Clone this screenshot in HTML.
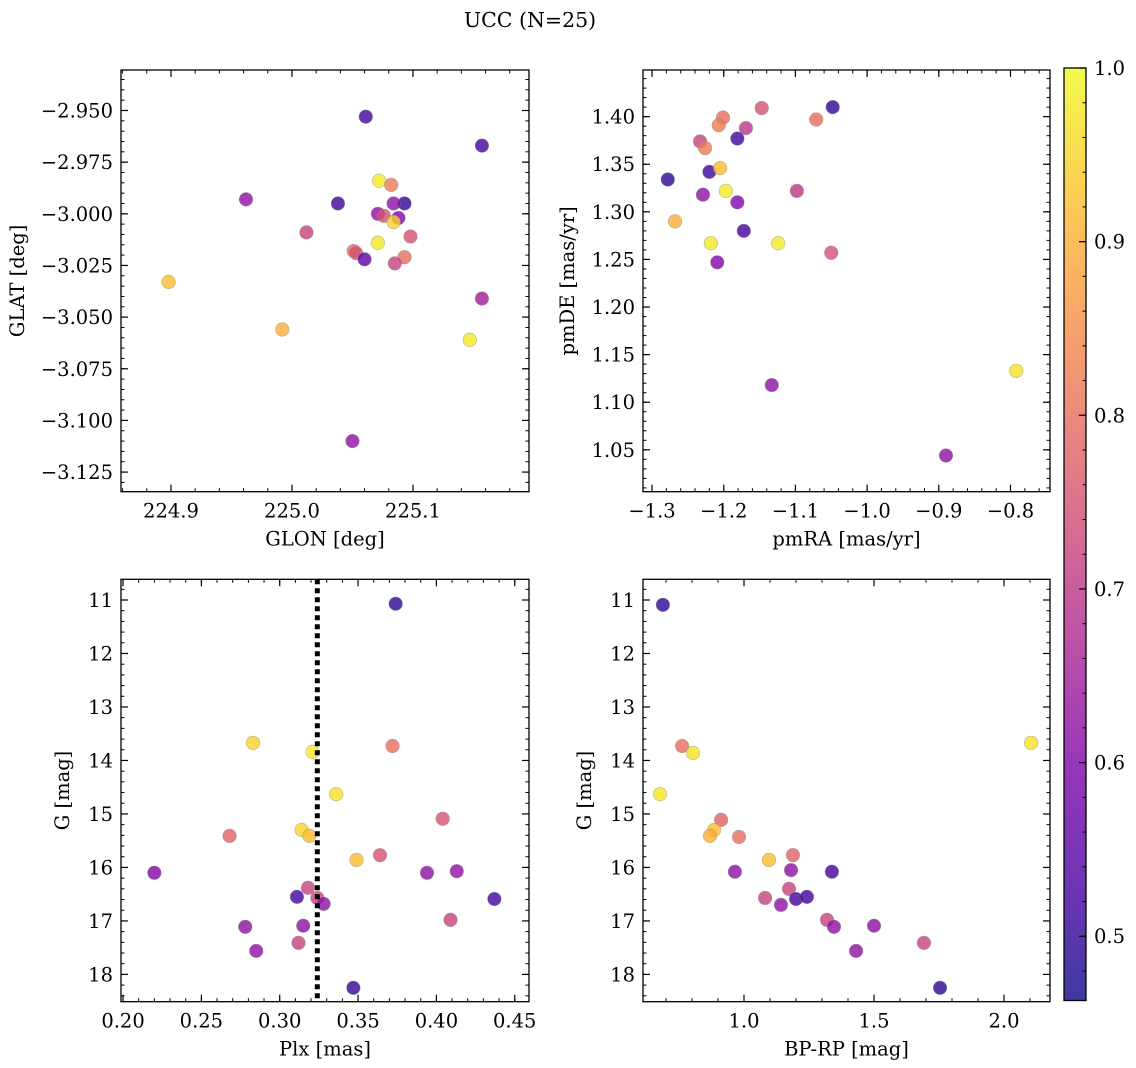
<!DOCTYPE html>
<html><head><meta charset="utf-8"><style>
html,body{margin:0;padding:0;background:#fff;}
svg{display:block;font-family:"DejaVu Serif","Liberation Serif",serif;}
</style></head><body>
<svg id="fig" width="1136" height="1068" viewBox="0 0 1136 1068" xmlns="http://www.w3.org/2000/svg">
<defs>
<linearGradient id="plasma" x1="0" y1="1" x2="0" y2="0">
<stop offset="0" stop-color="#0d0887"/><stop offset="0.125" stop-color="#4c02a1"/><stop offset="0.25" stop-color="#7e03a8"/><stop offset="0.375" stop-color="#a92395"/><stop offset="0.5" stop-color="#cc4778"/><stop offset="0.625" stop-color="#e66c5c"/><stop offset="0.75" stop-color="#f89540"/><stop offset="0.875" stop-color="#fdc527"/><stop offset="1" stop-color="#f0f921"/>
</linearGradient>
</defs>
<text x="530" y="27" font-size="20.5" text-anchor="middle">UCC (N=25)</text>
</svg>
<script>
// Panel 1: GLON / GLAT
const glon=[225.061,225.157,224.962,225.038,225.072,225.082,225.093,225.084,225.071,225.076,225.088,225.084,225.012,225.098,225.071,225.051,225.053,225.060,225.093,225.085,224.898,225.157,224.992,225.147,225.050];
const glat=[-2.953,-2.967,-2.993,-2.995,-2.984,-2.986,-2.995,-2.995,-3.000,-3.001,-3.002,-3.004,-3.009,-3.011,-3.014,-3.018,-3.019,-3.022,-3.021,-3.024,-3.033,-3.041,-3.056,-3.061,-3.110];
const prob1=[0.52,0.52,0.62,0.52,0.98,0.82,0.5,0.62,0.62,0.75,0.6,0.95,0.72,0.75,0.98,0.8,0.75,0.55,0.8,0.72,0.92,0.65,0.9,0.98,0.62];
// Panel 2: pmRA / pmDE
const pmra=[-1.147,-1.048,-1.201,-1.233,-1.207,-1.169,-1.226,-1.181,-1.071,-1.278,-1.220,-1.205,-1.197,-1.229,-1.181,-1.098,-1.268,-1.172,-1.218,-1.124,-1.209,-1.050,-0.792,-1.133,-0.890];
const pmde=[1.409,1.410,1.399,1.374,1.391,1.388,1.367,1.377,1.397,1.334,1.342,1.346,1.322,1.318,1.310,1.322,1.290,1.280,1.267,1.267,1.247,1.257,1.133,1.118,1.044];
const prob2=[0.75,0.5,0.8,0.72,0.82,0.7,0.82,0.52,0.8,0.5,0.52,0.92,0.98,0.62,0.6,0.7,0.9,0.52,0.98,0.98,0.6,0.75,0.97,0.62,0.62];
// Panel 3: Plx / G
const plx=[0.374,0.283,0.321,0.372,0.336,0.268,0.314,0.319,0.404,0.349,0.364,0.220,0.394,0.413,0.311,0.318,0.324,0.328,0.437,0.278,0.315,0.409,0.285,0.312,0.347];
const g3=[11.07,13.67,13.84,13.73,14.63,15.41,15.30,15.41,15.09,15.86,15.77,16.10,16.10,16.07,16.55,16.38,16.57,16.68,16.59,17.11,17.09,16.98,17.56,17.41,18.25];
const prob3=[0.5,0.95,0.98,0.8,0.97,0.78,0.95,0.92,0.75,0.92,0.75,0.6,0.62,0.62,0.52,0.72,0.72,0.62,0.52,0.62,0.62,0.72,0.62,0.72,0.5];
const plxMean=[0.324];
// Panel 4: BP-RP / G
const bprp=[0.688,0.677,0.762,0.804,2.104,0.912,0.885,0.869,0.981,1.096,1.188,0.965,1.181,1.338,1.081,1.173,1.142,1.200,1.242,1.319,1.500,1.346,1.431,1.692,1.754];
const g4=[11.09,14.63,13.73,13.86,13.67,15.11,15.30,15.41,15.43,15.86,15.77,16.08,16.05,16.08,16.57,16.40,16.70,16.59,16.55,16.98,17.09,17.11,17.56,17.41,18.25];
const prob4=[0.5,0.97,0.8,0.97,0.97,0.78,0.92,0.9,0.8,0.92,0.78,0.62,0.62,0.52,0.72,0.72,0.62,0.52,0.52,0.72,0.62,0.62,0.62,0.72,0.5];
const cbarTicks=[0.5,0.6,0.7,0.8,0.9,1.0];

const NS="http://www.w3.org/2000/svg";
const svg=document.getElementById('fig');
const FS=19.5;
function mk(tag,attrs,parent){const e=document.createElementNS(NS,tag);for(const k in attrs)e.setAttribute(k,attrs[k]);(parent||svg).appendChild(e);return e;}
const VMIN=0.463,VMAX=1.0;
const stops=[[13,8,135],[76,2,161],[126,3,168],[169,35,149],[204,71,120],[230,108,92],[248,149,64],[253,197,39],[240,249,33]];
function plasma(v){let t=(v-VMIN)/(VMAX-VMIN);t=Math.max(0,Math.min(1,t));const p=t*8,i=Math.min(7,Math.floor(p)),f=p-i;const a=stops[i],b=stops[i+1];return 'rgb('+a.map((c,k)=>Math.round(c+(b[k]-c)*f)).join(',')+')';}
function fmt(v,d){const s=Math.abs(v).toFixed(d);return (v<-1e-9?'\u2212':'')+s;}

function panel(o){
  const g=mk('g',{});
  
  
  const sx=v=>o.x0+(v-o.xmin)/(o.xmax-o.xmin)*(o.x1-o.x0);
  const sy=v=>o.inv? o.y0+(v-o.ymin)/(o.ymax-o.ymin)*(o.y1-o.y0) : o.y1-(v-o.ymin)/(o.ymax-o.ymin)*(o.y1-o.y0);
  for(let i=0;i<o.xs.length;i++){
    const c=mk('circle',{cx:sx(o.xs[i]),cy:sy(o.ys[i]),r:6.8,fill:plasma(o.cs[i]),'fill-opacity':0.8,stroke:'#888','stroke-opacity':0.6,'stroke-width':0.6},g);
    
    
  }
  if(o.vline){
    const l=mk('line',{x1:sx(o.vline[0]),x2:sx(o.vline[0]),y1:o.y0,y2:o.y1,stroke:'#000','stroke-width':5,'stroke-dasharray':'5,4'},g);
    
    
  }
  const fr=mk('rect',{x:o.x0,y:o.y0,width:o.x1-o.x0,height:o.y1-o.y0,fill:'none',stroke:'#000','stroke-width':1.3},g);
  
  
  const eps=1e-9;
  for(let v=Math.ceil(o.xmin/o.xminor-eps)*o.xminor;v<=o.xmax+eps;v+=o.xminor){
    const X=sx(v);mk('line',{x1:X,x2:X,y1:o.y1,y2:o.y1-3.5,stroke:'#000','stroke-width':1},g);mk('line',{x1:X,x2:X,y1:o.y0,y2:o.y0+3.5,stroke:'#000','stroke-width':1},g);
  }
  for(const v of o.xt){
    const X=sx(v);mk('line',{x1:X,x2:X,y1:o.y1,y2:o.y1-7,stroke:'#000','stroke-width':1.2},g);mk('line',{x1:X,x2:X,y1:o.y0,y2:o.y0+7,stroke:'#000','stroke-width':1.2},g);
    const t=mk('text',{x:X,y:o.y1+26,'font-size':FS,'text-anchor':'middle'},g);t.textContent=fmt(v,o.xd);
    
    
  }
  for(let v=Math.ceil(o.ymin/o.yminor-eps)*o.yminor;v<=o.ymax+eps;v+=o.yminor){
    const Y=sy(v);mk('line',{x1:o.x0,x2:o.x0+3.5,y1:Y,y2:Y,stroke:'#000','stroke-width':1},g);mk('line',{x1:o.x1,x2:o.x1-3.5,y1:Y,y2:Y,stroke:'#000','stroke-width':1},g);
  }
  for(const v of o.yt){
    const Y=sy(v);mk('line',{x1:o.x0,x2:o.x0+7,y1:Y,y2:Y,stroke:'#000','stroke-width':1.2},g);mk('line',{x1:o.x1,x2:o.x1-7,y1:Y,y2:Y,stroke:'#000','stroke-width':1.2},g);
    const t=mk('text',{x:o.x0-8,y:Y+7,'font-size':FS,'text-anchor':'end'},g);t.textContent=fmt(v,o.yd);
    
    
  }
  const xl=mk('text',{x:(o.x0+o.x1)/2,y:o.y1+54,'font-size':FS,'text-anchor':'middle'},g);xl.textContent=o.xlabel;
  
  
  const cy=(o.y0+o.y1)/2;
  const yl=mk('text',{x:o.ylx,y:cy,'font-size':FS,'text-anchor':'middle',transform:'rotate(-90 '+o.ylx+' '+cy+')'},g);yl.textContent=o.ylabel;
  
  
}

panel({name:'glon-glat-panel',x0:121,x1:529,y0:70,y1:491.7,xmin:224.8587,xmax:225.1959,ymin:-3.1345,ymax:-2.9304,xs:glon,ys:glat,cs:prob1,
  xt:[224.9,225.0,225.1],xd:1,xminor:0.02,yt:[-2.95,-2.975,-3.0,-3.025,-3.05,-3.075,-3.1,-3.125],yd:3,yminor:0.005,xlabel:'GLON [deg]',ylabel:'GLAT [deg]',ylx:24});
panel({name:'pm-panel',x0:643,x1:1050,y0:70,y1:491.7,xmin:-1.3126,xmax:-0.7449,ymin:1.006,ymax:1.449,xs:pmra,ys:pmde,cs:prob2,
  xt:[-1.3,-1.2,-1.1,-1.0,-0.9,-0.8],xd:1,xminor:0.02,yt:[1.05,1.10,1.15,1.20,1.25,1.30,1.35,1.40],yd:2,yminor:0.01,xlabel:'pmRA [mas/yr]',ylabel:'pmDE [mas/yr]',ylx:574});
panel({name:'plx-g-panel',x0:121,x1:529,y0:579.3,y1:1001.7,xmin:0.1987,xmax:0.4591,ymin:10.613,ymax:18.51,inv:true,xs:plx,ys:g3,cs:prob3,vline:plxMean,
  xt:[0.20,0.25,0.30,0.35,0.40,0.45],xd:2,xminor:0.01,yt:[11,12,13,14,15,16,17,18],yd:0,yminor:0.2,xlabel:'Plx [mas]',ylabel:'G [mag]',ylx:69});
panel({name:'cmd-panel',x0:643,x1:1050,y0:579.3,y1:1001.7,xmin:0.6115,xmax:2.1769,ymin:10.613,ymax:18.51,inv:true,xs:bprp,ys:g4,cs:prob4,
  xt:[1.0,1.5,2.0],xd:1,xminor:0.1,yt:[11,12,13,14,15,16,17,18],yd:0,yminor:0.2,xlabel:'BP-RP [mag]',ylabel:'G [mag]',ylx:591});

const cb=mk('g',{});


const CX0=1064,CX1=1086,CY0=68,CY1=1000.5;
const cy=v=>CY1-(v-VMIN)/(VMAX-VMIN)*(CY1-CY0);
mk('rect',{x:CX0,y:CY0,width:CX1-CX0,height:CY1-CY0,fill:'url(#plasma)','fill-opacity':0.8},cb);
mk('rect',{x:CX0,y:CY0,width:CX1-CX0,height:CY1-CY0,fill:'none',stroke:'#000','stroke-width':1.3},cb);
for(let v=0.48;v<=1.0001;v+=0.02){const Y=cy(v);mk('line',{x1:CX1,x2:CX1-3.5,y1:Y,y2:Y,stroke:'#000','stroke-width':1},cb);}
for(const v of cbarTicks){const Y=cy(v);mk('line',{x1:CX1,x2:CX1-7,y1:Y,y2:Y,stroke:'#000','stroke-width':1.2},cb);
  const t=mk('text',{x:CX1+8,y:Y+7,'font-size':FS},cb);t.textContent=v.toFixed(1);
  
  }
</script>
</body></html>
